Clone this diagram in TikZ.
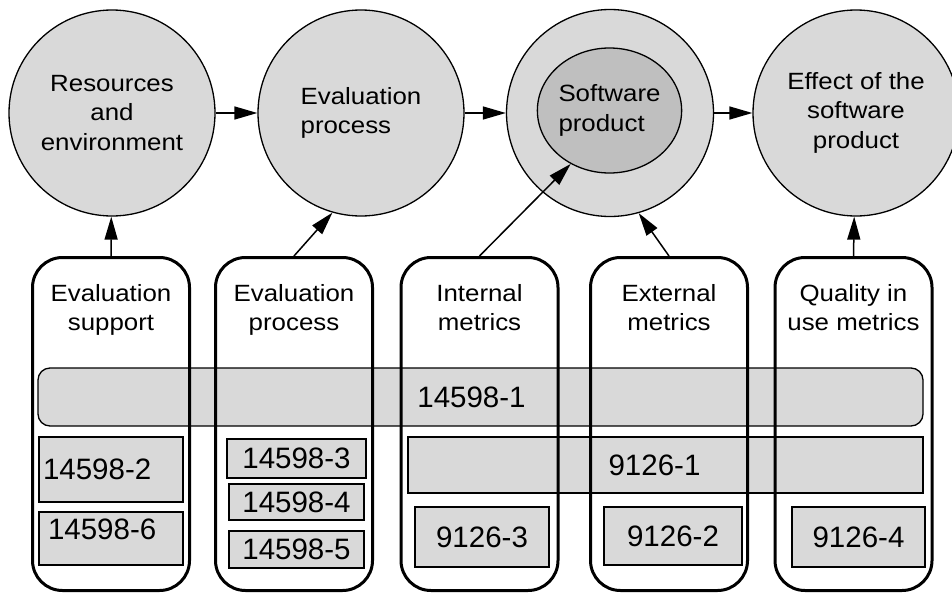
\documentclass[tikz,border=0pt]{standalone}
\usepackage{fontspec}
\setmainfont{Liberation Sans}
\newfontfamily\lblfont[FakeStretch=1.1]{Liberation Sans}
\usepackage{tikz}
\usetikzlibrary{arrows.meta,positioning,shapes.geometric}

\begin{document}
\begin{tikzpicture}[
  x=1pt, y=-1pt,
  lbl/.style={font=\lblfont\fontsize{23.5}{29.5}\selectfont},
  num/.style={font=\fontsize{29.5}{32}\selectfont},
  circ/.style={circle, draw, line width=1.3pt, fill=gray!30, inner sep=0pt,
               minimum size=206pt, align=center, lbl},
  core/.style={ellipse, draw, line width=1.3pt, fill=gray!50, inner sep=0pt,
               minimum width=133pt, minimum height=125pt, align=left, lbl},
  column/.style={draw, line width=3pt, rounded corners=30pt,
                 minimum width=157pt, minimum height=333pt},
  hdr/.style={anchor=north, yshift=-28pt, inner sep=0pt, align=center, lbl},
  bar/.style={draw, line width=1.3pt, fill=gray!30, inner sep=0pt, num},
  arr/.style={-{Triangle[length=23pt,width=13pt]}, line width=1.5pt}
]
\useasboundingbox (0,0) rectangle (952,594);
% circles on top row
\node[circ] (c1) at (112,113) {Resources\\and\\environment};
\node[circ] (c2) at (361,113) {\raisebox{7pt}{\begin{tabular}{@{}l@{}}Evaluation\\process\end{tabular}}};
\node[circ, minimum size=207pt] (c3) at (610,113) {};
\node[core] (sp) at (609.5,110.5) {Software\\product};
\node[circ] (c4) at (856,113) {\raisebox{-3pt}{\begin{tabular}{@{}c@{}}Effect of the\\software\\product\end{tabular}}};
\draw[arr] (c1) -- (c2);
\draw[arr] (c2) -- (c3);
\draw[arr] (c3) -- (c4);
% standards bars
\node[bar, rounded corners=12pt, minimum width=885pt, minimum height=58pt] (p1) at (480.5,397) {14598-1\kern18pt};
\node[bar, minimum width=515pt, minimum height=56pt] (i1) at (665.5,465) {9126-1\kern22pt};
\node[bar, text width=136pt, inner xsep=4pt, align=left, minimum height=65pt] (p2) at (111,469.5) {14598-2};
\node[bar, text width=126pt, inner xsep=9pt, align=left, text height=23.5pt, text depth=22.5pt, inner ysep=3.5pt] (p6) at (111,538.5) {14598-6};
\node[bar, minimum width=139pt, minimum height=39pt] (p3) at (296.5,458.5) {14598-3};
\node[bar, minimum width=135pt, minimum height=36pt] (p4) at (296.5,502) {14598-4};
\node[bar, minimum width=135pt, minimum height=37pt] (p5) at (296.5,549.5) {14598-5};
\node[bar, minimum width=134pt, minimum height=60pt] (i3) at (482,537) {9126-3};
\node[bar, minimum width=138pt, minimum height=58pt] (i2) at (673,536) {9126-2};
\node[bar, minimum width=133pt, minimum height=60pt] (i4) at (858.5,537) {9126-4};
% metric columns
\node[column, label={[hdr]north:Evaluation\\support}] (b1) at (111,424) {};
\node[column, label={[hdr]north:Evaluation\\process}] (b2) at (294,424) {};
\node[column, label={[hdr]north:Internal\\metrics}] (b3) at (479.5,424) {};
\node[column, label={[hdr]north:External\\metrics}] (b4) at (669,424) {};
\node[column, label={[hdr]north:Quality in\\use metrics}] (b5) at (853.5,424) {};
\draw[arr] (b1.north) -- (c1);
\draw[arr] (b2.north) -- (c2.254);
\draw[arr] (b3.north) -- (sp.234);
\draw[arr] (b4.north) -- (c3.286);
\draw[arr] (b5.north) -- (c4);
\end{tikzpicture}
\end{document}
